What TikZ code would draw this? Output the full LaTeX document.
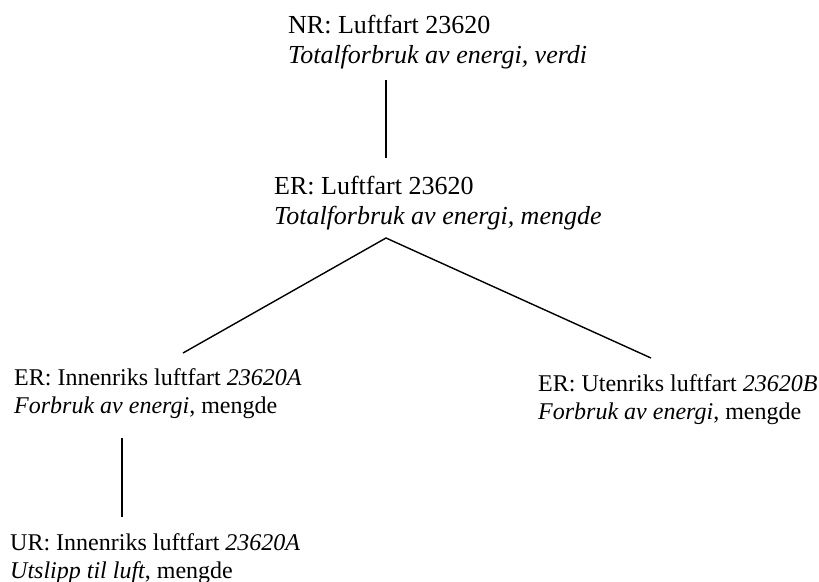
\documentclass[tikz,border=0pt]{standalone}
\usepackage{fontspec}
\setmainfont{Liberation Serif}
\begin{document}
\begin{tikzpicture}[x=1pt,y=-1pt,
  lbl/.style={anchor=base west, inner sep=0pt, font=\fontsize{26}{30}\selectfont},
  lbls/.style={anchor=base west, inner sep=0pt, font=\fontsize{24}{28}\selectfont},
  conn/.style={line width=1.4pt, line cap=butt}]
\useasboundingbox (0,0) rectangle (819,581);
\node[lbl] (nr) at (288,33) {\vtop{\hbox{NR: Luftfart 23620}\hbox{\itshape Totalforbruk av energi, verdi}}};
\node[lbl] (er) at (274,194) {\vtop{\hbox{ER: Luftfart 23620}\hbox{\itshape Totalforbruk av energi, mengde}}};
\node[lbls] (inn) at (14,385) {\vtop{\hbox{ER: Innenriks luftfart \textit{23620A}}\hbox{\textit{Forbruk av energi}, mengde}}};
\node[lbls] (ute) at (538,391) {\vtop{\hbox{ER: Utenriks luftfart \textit{23620B}}\hbox{\textit{Forbruk av energi}, mengde}}};
\node[lbls] (ur) at (10,550) {\vtop{\hbox{UR: Innenriks luftfart \textit{23620A}}\hbox{\textit{Utslipp til luft}, mengde}}};
\coordinate (nrout) at (386,80);
\coordinate (erin) at (386,158);
\coordinate (erout) at (386,238);
\coordinate (innin) at (183,353);
\coordinate (utein) at (651,358);
\coordinate (innout) at (122,438);
\coordinate (urin) at (122,517);
\draw[conn] (nrout) -- (erin);
\draw[conn] (innin) -- (erout) -- (utein);
\draw[conn] (innout) -- (urin);
\end{tikzpicture}
\end{document}
